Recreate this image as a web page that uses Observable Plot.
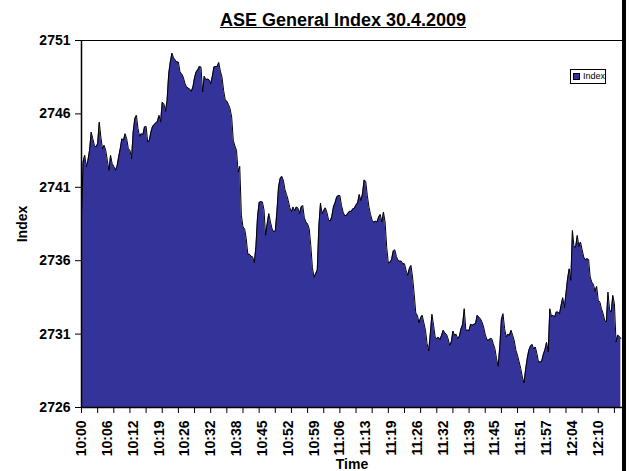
<!DOCTYPE html>
<html><head><meta charset="utf-8">
<script src="https://cdn.jsdelivr.net/npm/d3@7"></script>
<script src="https://cdn.jsdelivr.net/npm/@observablehq/plot@0.6"></script>
<style>
html,body{margin:0;padding:0;background:#fff;overflow:hidden}
#wrap{position:relative;width:629px;height:471px;font-family:"Liberation Sans",Arial,sans-serif}
#title{position:absolute;left:143px;top:11px;width:400px;text-align:center;font-size:18px;font-weight:bold;text-decoration:underline;line-height:18px}
#legend{position:absolute;left:570px;top:69px;width:34px;height:13px;border:1px solid #000;background:#fff;font-size:9px;line-height:13px}
#legend .sw{position:absolute;left:2px;top:3px;width:5px;height:5px;border:1px solid #000;background:#333399}
#legend .tx{position:absolute;left:12px;top:0}
#edge{position:absolute;left:622px;top:0;width:4px;height:471px;background:#000}
</style></head><body>
<div id="wrap"><div id="chart"></div><div id="title">ASE General Index 30.4.2009</div><div id="legend"><span class="sw"></span><span class="tx">Index</span></div><div id="edge"></div></div>
<script>
const values = [
2739.0,2742.72,2743.18,2742.38,2742.84,2743.52,2744.76,2744.31,2743.86,2743.74,
2743.97,2745.44,2744.42,2743.63,2743.86,2743.52,2742.84,2742.16,2743.18,2742.61,
2742.43,2742.16,2742.43,2743.06,2743.63,2744.31,2744.2,2744.65,2744.31,2743.63,
2743.52,2742.95,2744.76,2745.67,2745.9,2744.99,2744.47,2744.65,2744.58,2745.1,
2745.15,2744.08,2744.2,2744.76,2745.15,2745.26,2745.38,2745.49,2745.9,2745.44,
2746.8,2746.69,2746.17,2746.92,2748.73,2749.53,2750.14,2749.82,2749.68,2749.53,
2749.53,2748.85,2748.73,2748.51,2748.1,2747.83,2747.76,2747.7,
2747.53,2747.83,2748.46,2748.85,2749.0,2749.23,2749.19,2747.49,2748.57,2748.32,2748.37,2748.32,
2748.05,2748.55,2749.19,2749.23,2749.23,2749.5,2748.91,2748.51,2747.6,2746.96,
2746.87,2746.65,2746.35,2745.78,2744.2,2743.81,2743.52,2742.04,2742.43,2739.1,
2738.3,2738.19,2737.51,2736.44,2736.44,2736.31,2736.26,2735.85,2736.94,2738.98,
2739.96,2740.03,2740.0,2739.48,2737.73,2738.53,2739.21,2738.64,2738.19,2737.96,
2738.03,2739.32,2741.02,2741.59,2741.75,2741.48,2740.84,2740.5,2740.12,2739.62,
2739.32,2739.66,2739.39,2739.66,2739.59,2739.21,2739.65,2739.76,2738.92,2738.63,
2738.51,2738.17,2737.04,2735.52,2734.88,2735.11,2735.38,2738.4,2739.92,2739.19,
2739.42,2739.6,2739.28,2738.78,2738.69,2739.01,2739.65,2739.94,2740.33,2740.44,
2740.44,2739.76,2739.31,2739.08,2739.08,2739.24,2739.37,2739.35,2739.53,2739.58,
2739.8,2739.94,2740.51,2740.1,2740.55,2741.5,2741.41,2740.44,2739.65,2739.15,
2738.74,2738.63,2738.69,2738.63,2738.97,2739.15,2738.63,2739.31,2738.63,2736.92,
2735.84,2735.9,2736.06,2736.65,2736.74,2736.29,2736.02,2735.97,2735.97,2735.79,
2735.79,2735.34,2735.0,2735.45,2735.68,2734.89,2733.75,2732.44,2732.28,2731.76,
2732.12,2732.28,2731.76,2731.26,2730.35,2729.85,2731.03,2732.35,2731.6,2730.8,
2730.69,2730.8,2730.62,2730.92,2731.26,2731.08,2730.99,2730.69,2730.24,2730.46,
2731.21,2730.92,2730.99,2730.69,2730.85,2731.37,2731.64,2732.73,2731.26,2731.26,
2731.26,2731.67,2731.6,2731.67,2731.71,2732.28,2732.16,2732.05,2731.82,2731.48,
2730.99,2730.62,2730.58,2730.69,2730.69,2730.35,2730.01,2729.33,2728.81,2730.12,
2731.98,2732.39,2731.37,2730.8,2730.99,2730.92,2731.26,2730.92,2730.53,
2729.9,2729.56,2729.1,2728.65,2728.08,2727.67,2728.58,2729.33,2729.9,2730.17,2730.3,
2729.99,2730.12,2729.67,2729.1,2729.1,2729.17,2729.62,2729.94,2730.44,2729.78,
2732.73,2732.21,2732.28,2732.16,2732.5,2732.5,2732.39,2732.96,2733.48,2732.8,
2733.75,2734.77,2735.45,2734.66,2738.06,2736.93,2736.93,2737.72,2736.97,2737.27,
2736.74,2736.25,2736.06,2736.13,2736.09,2734.89,2734.54,2734.39,2733.91,2734.25,
2733.3,2733.18,2732.73,2732.39,2731.94,2731.82,2733.86,2732.66,2732.5,2733.64,
2733.07,2730.46,2730.92,2730.85,2730.69
];
const timeLabels = ["10:00","10:06","10:12","10:19","10:26","10:32","10:38","10:45","10:52","10:59","11:06","11:13","11:19","11:26","11:32","11:39","11:45","11:51","11:57","12:04","12:10"];
const yTicks = [2726, 2731, 2736, 2741, 2746, 2751];
const labelEvery = 16, tickEvery = 10;

const data = values.map((v, i) => ({i, v}));
const labelPos = timeLabels.map((_, k) => k * labelEvery);
const tickPos = d3.range(0, values.length, tickEvery);

const chart = Plot.plot({
  width: 629, height: 471,
  marginLeft: 81, marginRight: 7, marginTop: 40, marginBottom: 64,
  style: {fontFamily: '"Liberation Sans", Arial, sans-serif', fontSize: "14px", fontWeight: "bold", color: "#000", background: "#fff", overflow: "visible"},
  x: {domain: [0, values.length]},
  y: {domain: [yTicks[0], yTicks[yTicks.length - 1]]},
  marks: [
    Plot.areaY(data, {x: "i", y1: yTicks[0], y2: "v", fill: "#333399"}),
    Plot.lineY(data, {x: "i", y: "v", stroke: "#000", strokeWidth: 1}),
    Plot.ruleY([yTicks[yTicks.length - 1]], {stroke: "#000", strokeWidth: 1}),
    Plot.ruleY([yTicks[0]], {stroke: "#000", strokeWidth: 1.5}),
    Plot.ruleX([0], {stroke: "#000", strokeWidth: 1.5}),
    Plot.axisY({ticks: yTicks, tickSize: 6, tickPadding: 5, tickFormat: (d) => String(d), label: "Index", labelAnchor: "center", labelOffset: 64, labelArrow: "none"}),
    Plot.axisX({ticks: tickPos, tickSize: 6, tickFormat: () => "", label: null}),
    Plot.axisX({ticks: labelPos, tickSize: 0, tickPadding: 13, tickRotate: -90, tickFormat: (i) => timeLabels[Math.round(i / labelEvery)], label: "Time", labelAnchor: "center", labelOffset: 61, labelArrow: "none"})
  ]
});
document.getElementById("chart").appendChild(chart);
</script>
</body></html>
